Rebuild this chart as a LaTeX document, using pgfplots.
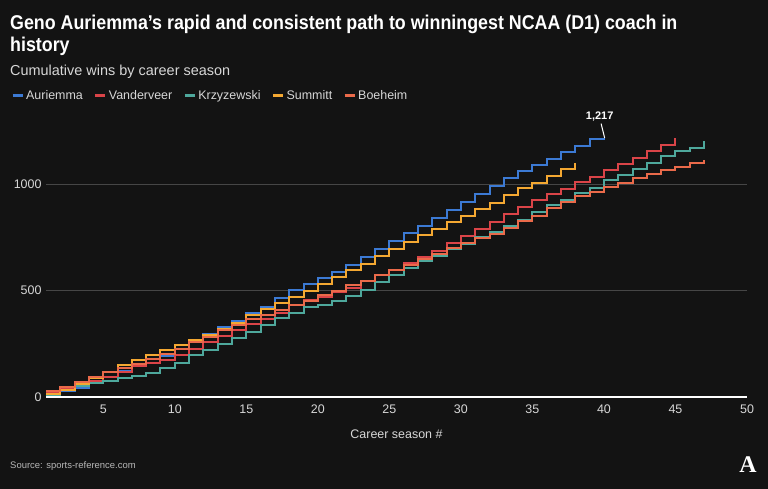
\documentclass[border=0pt]{standalone}
\usepackage{pgfplots}
\pgfplotsset{compat=1.18}
\usepackage{fontspec}
\setmainfont{Liberation Sans}
\newfontfamily\titlefont[FakeStretch=0.895]{Liberation Sans}
\newfontfamily\logofont{Liberation Serif}
\definecolor{bg}{RGB}{19,19,19}
\definecolor{cAur}{RGB}{60,122,212}
\definecolor{cVan}{RGB}{218,68,72}
\definecolor{cKrz}{RGB}{78,168,156}
\definecolor{cSum}{RGB}{244,168,50}
\definecolor{cBoe}{RGB}{234,106,74}
\definecolor{txtgray}{RGB}{215,215,215}
\definecolor{gridgray}{RGB}{70,70,70}
\begin{document}
\begin{tikzpicture}[x=1bp,y=1bp]
\fill[bg] (0,0) rectangle (768,489);
\node[anchor=base west, inner sep=0, text=white] at (10,459) {\titlefont\bfseries\fontsize{20}{24}\selectfont Geno Auriemma’s rapid and consistent path to winningest NCAA (D1) coach in};
\node[anchor=base west, inner sep=0, text=white] at (10,437) {\titlefont\bfseries\fontsize{20}{24}\selectfont history};
\node[anchor=base west, inner sep=0, text=txtgray] at (10,413) {\fontsize{14.5}{17}\selectfont Cumulative wins by career season};
\node[anchor=base west, inner sep=0, text=txtgray!85!black] at (10,20) {\fontsize{9.5}{11}\selectfont Source: sports-reference.com};
\node[text=white, inner sep=0] at (748,24) {\logofont\bfseries\fontsize{24}{24}\selectfont A};
\begin{axis}[
  at={(46bp,92bp)}, anchor=south west,
  scale only axis, width=701bp, height=266bp,
  xmin=1, xmax=50, ymin=0, ymax=1250,
  clip=false,
  axis lines=left,
  axis line style={-},
  x axis line style={white, line width=1.8bp},
  y axis line style={draw=none},
  major tick length=0pt,
  xtick={5,10,...,50},
  ytick={0,500,1000},
  /pgf/number format/assume math mode=true,
  /pgf/number format/1000 sep={},
  ymajorgrids,
  grid style={gridgray, line width=0.8bp},
  tick label style={text=txtgray, font=\fontsize{12.5}{14}\selectfont},
  xticklabel style={yshift=-4bp},
  yticklabel style={xshift=-1bp},
  xlabel={Career season \#},
  xlabel style={text=txtgray, font=\fontsize{12.5}{14}\selectfont, yshift=-10bp},
  legend columns=-1,
  legend style={at={(-0.05,1.132)}, anchor=west, draw=none, fill=none,
    text=txtgray, font=\fontsize{12.5}{14}\selectfont, inner sep=0pt,
    /tikz/every even column/.append style={column sep=9bp}},
  legend image code/.code={\draw[line width=3bp] (0bp,0bp) -- (10bp,0bp);},
  every axis plot/.append style={line width=2bp, const plot},
]
\addplot[cAur] coordinates {
(1,12)(2,26)(3,43)(4,67)(5,92)(6,121)(7,144)(8,162)(9,192)(10,227)
(11,261)(12,294)(13,328)(14,357)(15,393)(16,425)(17,464)(18,501)(19,532)(20,557)
(21,589)(22,621)(23,657)(24,696)(25,735)(26,771)(27,804)(28,839)(29,879)(30,917)
(31,955)(32,991)(33,1027)(34,1062)(35,1091)(36,1119)(37,1149)(38,1180)(39,1210)(40,1217)};
\addlegendentry{Auriemma}
\addplot[cVan] coordinates {
(1,17)(2,42)(3,59)(4,75)(5,95)(6,117)(7,145)(8,158)(9,172)(10,199)
(11,227)(12,259)(13,285)(14,315)(15,341)(16,366)(17,396)(18,430)(19,454)(20,472)
(21,493)(22,513)(23,545)(24,572)(25,599)(26,631)(27,658)(28,687)(29,722)(30,755)
(31,791)(32,824)(33,859)(34,892)(35,925)(36,952)(37,979)(38,1011)(39,1035)(40,1066)
(41,1093)(42,1124)(43,1156)(44,1185)(45,1216)};
\addlegendentry{Vanderveer}
\addplot[cKrz] coordinates {
(1,11)(2,31)(3,50)(4,64)(5,73)(6,90)(7,100)(8,111)(9,135)(10,158)
(11,195)(12,219)(13,247)(14,275)(15,304)(16,336)(17,370)(18,394)(19,422)(20,431)
(21,449)(22,473)(23,505)(24,542)(25,571)(26,606)(27,637)(28,663)(29,694)(30,721)
(31,753)(32,775)(33,803)(34,833)(35,868)(36,900)(37,927)(38,957)(39,983)(40,1018)
(41,1043)(42,1071)(43,1100)(44,1132)(45,1157)(46,1170)(47,1202)};
\addlegendentry{Krzyzewski}
\addplot[cSum] coordinates {
(1,16)(2,32)(3,60)(4,87)(5,117)(6,150)(7,175)(8,197)(9,222)(10,245)
(11,267)(12,291)(13,319)(14,350)(15,385)(16,412)(17,442)(18,470)(19,499)(20,530)
(21,564)(22,596)(23,625)(24,664)(25,695)(26,728)(27,759)(28,788)(29,821)(30,852)
(31,882)(32,913)(33,947)(34,983)(35,1005)(36,1037)(37,1071)(38,1098)};
\addlegendentry{Summitt}
\addplot[cBoe] coordinates {
(1,26)(2,48)(3,70)(4,96)(5,118)(6,134)(7,155)(8,178)(9,200)(10,226)
(11,257)(12,283)(13,313)(14,339)(15,365)(16,387)(17,407)(18,430)(19,450)(20,479)
(21,498)(22,524)(23,545)(24,571)(25,596)(26,619)(27,649)(28,672)(29,699)(30,722)
(31,746)(32,767)(33,795)(34,825)(35,852)(36,886)(37,916)(38,944)(39,962)(40,985)
(41,1004)(42,1027)(43,1047)(44,1065)(45,1083)(46,1099)(47,1116)};
\addlegendentry{Boeheim}
\draw[white, line width=1bp] (axis cs:40.05,1217) -- (axis cs:39.8,1285);
\node[text=white, font=\bfseries\fontsize{11}{12}\selectfont] at (axis cs:39.7,1318) {1,217};
\end{axis}
\pgfresetboundingbox
\path[use as bounding box] (0,0) rectangle (768,489);
\end{tikzpicture}
\end{document}
